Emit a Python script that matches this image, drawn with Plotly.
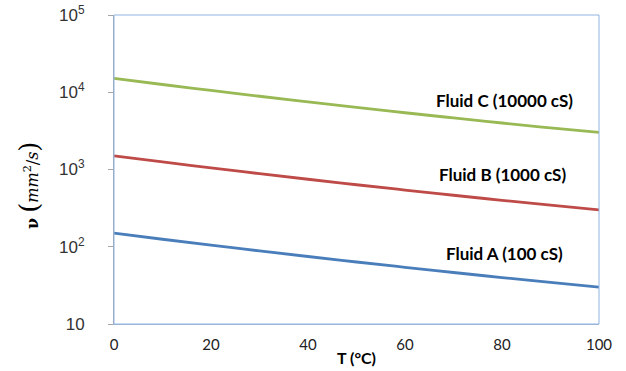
import math
import plotly.graph_objects as go

T = [0, 10, 20, 30, 40, 50, 60, 70, 80, 90, 100]
fluid_a = [150, 125, 105, 88.4, 74.8, 63.5, 54.2, 46.4, 39.9, 34.5, 30]
fluid_b = [1500, 1252, 1050, 884, 748, 635, 542, 464, 399, 345, 300]
fluid_c = [15100, 12600, 10550, 8880, 7500, 6380, 5430, 4650, 4000, 3460, 3020]

names = ["Fluid A (100 cS)", "Fluid B (1000 cS)", "Fluid C (10000 cS)"]
colors = ["#4A7EBB", "#BE4B48", "#98B954"]

y_tickvals = [10, 100, 1000, 10000, 100000]
y_ticktext = ["10", "10<sup>2</sup>", "10<sup>3</sup>", "10<sup>4</sup>", "10<sup>5</sup>"]
x_tickvals = [0, 20, 40, 60, 80, 100]

label_x = [80.5, 80.0, 80.5]
label_y = [83, 850, 7900]

fig = go.Figure()
for vals, name, col in zip([fluid_a, fluid_b, fluid_c], names, colors):
    fig.add_trace(go.Scatter(x=T, y=vals, mode="lines", name=name,
                             line=dict(color=col, width=2.8, shape="spline")))

for name, lx, ly in zip(names, label_x, label_y):
    fig.add_annotation(x=lx, y=math.log10(ly), text="<b>" + name + "</b>",
                       showarrow=False, font=dict(family="Lato", size=17, color="#000000"),
                       xanchor="center", yanchor="middle")

fig.add_annotation(xref="paper", yref="paper", x=0.5, y=-0.108, text="<b>T (°C)</b>",
                   showarrow=False, font=dict(family="Lato", size=16, color="#000000"),
                   xanchor="center", yanchor="middle")
fig.add_annotation(xref="paper", yref="paper", x=-0.175, y=0.45, textangle=-90,
                   text="<b>ν</b> <span style='font-size:26px'>(</span><i>mm</i><sup>2</sup>/<i>s</i><span style='font-size:26px'>)</span>",
                   showarrow=False, font=dict(family="DejaVu Serif", size=16, color="#000000"),
                   xanchor="center", yanchor="middle")

# plot frame (light blue border)
fig.add_shape(type="rect", xref="paper", yref="paper", x0=0, y0=0, x1=1, y1=1,
              line=dict(color="#8EB4E3", width=1), layer="above")

fig.update_layout(
    width=626, height=371,
    margin=dict(l=114, r=27, t=15, b=47),
    plot_bgcolor="white", paper_bgcolor="white",
    showlegend=False,
    xaxis=dict(range=[0, 100], tickvals=x_tickvals, showgrid=False, zeroline=False,
               showline=True, linecolor="#A9B7CC", linewidth=1, ticks="",
               ticklabelstandoff=7, automargin=False,
               tickfont=dict(family="Lato", size=15, color="#222222")),
    yaxis=dict(type="log", range=[1, 5], tickvals=y_tickvals, ticktext=y_ticktext,
               showgrid=False, zeroline=False, showline=True, linecolor="#A6A6A6",
               linewidth=1, ticks="outside", ticklen=5, tickcolor="#A6A6A6",
               ticklabelstandoff=20, automargin=False,
               tickfont=dict(family="Liberation Sans", size=17, color="#333333")),
)

fig.write_html("out.html", config={"displayModeBar": False},
               post_script="document.body.style.margin='0';document.body.style.overflow='hidden';")
